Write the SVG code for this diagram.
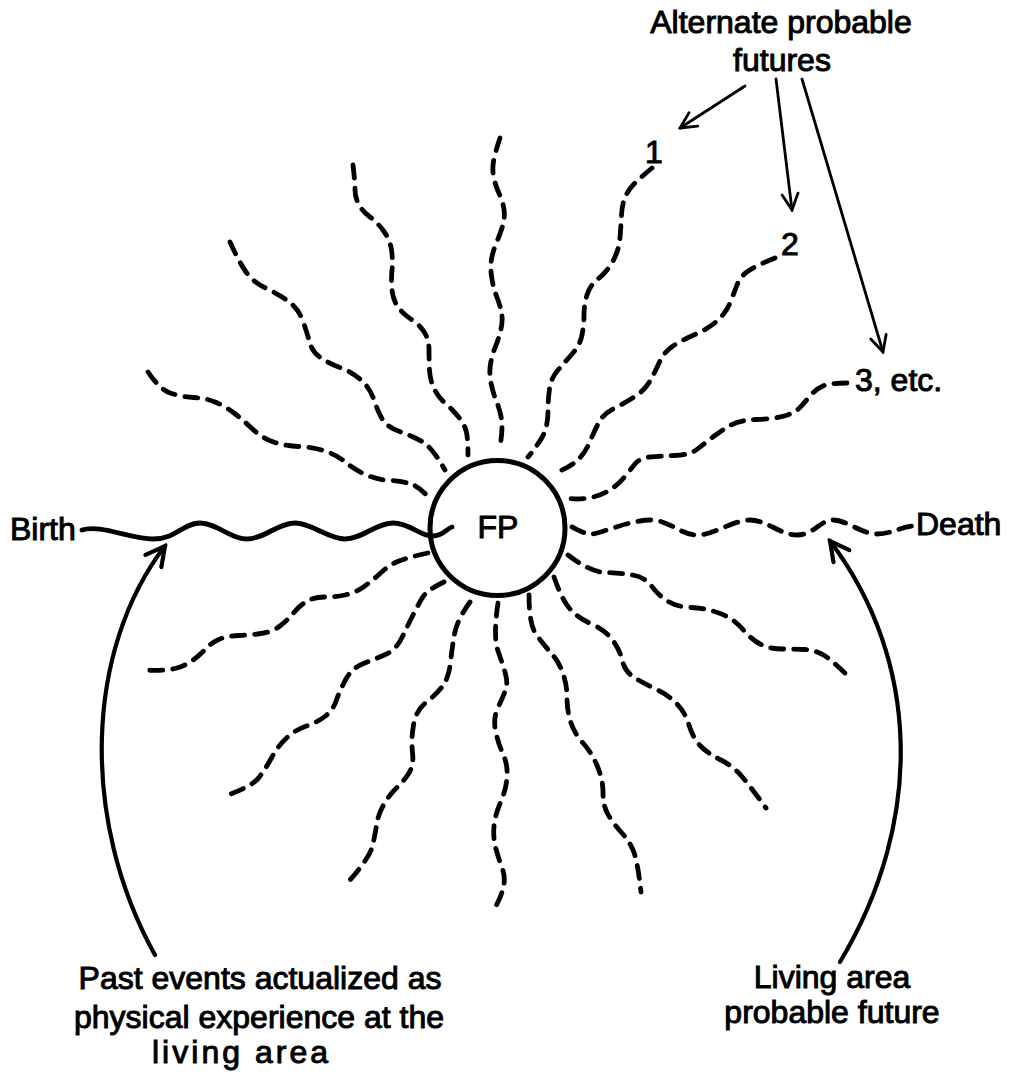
<svg xmlns="http://www.w3.org/2000/svg" width="1010" height="1072" viewBox="0 0 1010 1072">
<style>
.t{font-family:"Liberation Sans",Arial,sans-serif;font-size:32px;fill:#000;stroke:#000;stroke-width:1px}
.m{text-anchor:middle}
.ray{fill:none;stroke:#000;stroke-width:4.8;stroke-linecap:round;stroke-linejoin:round;stroke-dasharray:13 10}
.solid{fill:none;stroke:#000;stroke-linecap:round;stroke-linejoin:round}
</style>
<defs>
<marker id="ah" viewBox="0 0 20 20" refX="18" refY="10" markerWidth="20" markerHeight="20" markerUnits="userSpaceOnUse" orient="auto">
<path d="M2,2 L18,10 L2,18" fill="none" stroke="#000" stroke-width="2.8" stroke-linecap="round" stroke-linejoin="miter"/>
</marker>
<marker id="ahb" viewBox="0 0 24 24" refX="21" refY="12" markerWidth="24" markerHeight="24" markerUnits="userSpaceOnUse" orient="auto">
<path d="M2,2 L21,12 L2,22" fill="none" stroke="#000" stroke-width="4.2" stroke-linecap="round" stroke-linejoin="miter"/>
</marker>
</defs>
<rect width="1010" height="1072" fill="#fff"/>

<g id="connectors">
<!-- upper rays -->
<path class="ray" d="M148,372 Q160,390 171.5,393.5 Q183,397 194,397.5 Q205,398 215,402 Q225,406 234,413 Q243,420 252.5,429 Q262,438 273.5,442 Q285,446 299,446.5 Q313,447 325,451 Q337,455 346,462.5 Q355,470 366.5,475 Q378,480 390,480.5 Q402,481 411,484 Q420,487 429,498"/>
<path class="ray" d="M230,242 Q239,262 246,272 Q253,282 265.5,288 Q278,294 288,301 Q298,308 302.5,320 Q307,332 309.5,342 Q312,352 321,358 Q330,364 341,368 Q352,372 361,380 Q370,388 374,400 Q378,412 382.5,419.5 Q387,427 399.5,431.5 Q412,436 422,441.5 Q432,447 445,470"/>
<path class="ray" d="M353,165 Q355,182 355,189.5 Q355,197 358.5,204 Q362,211 370,217 Q378,223 384,231.5 Q390,240 391.5,250 Q393,260 392,270 Q391,280 392,290 Q393,300 398,307 Q403,314 411.5,319.5 Q420,325 424.5,332.5 Q429,340 429,350 Q429,360 429.5,370 Q430,380 434,388.5 Q438,397 445.5,403.5 Q453,410 459,417.5 Q465,425 466.5,432.5 Q468,440 468,455"/>
<path class="ray" d="M500,138 Q495,153 493.5,161.5 Q492,170 494,178.5 Q496,187 499.5,194.5 Q503,202 504,209.5 Q505,217 503,224.5 Q501,232 497.5,240 Q494,248 492,256.5 Q490,265 491.5,276 Q493,287 496.5,296 Q500,305 501.5,312.5 Q503,320 501,329 Q499,338 495.5,346.5 Q492,355 490.5,364 Q489,373 491,383 Q493,393 496.5,401.5 Q500,410 501.5,419 Q503,428 500,447"/>
<path class="ray" d="M652,168 Q640,178 634,184 Q628,190 625,197.5 Q622,205 621.5,215 Q621,225 620,237.5 Q619,250 613,261 Q607,272 598.5,278.5 Q590,285 587,295 Q584,305 584,315 Q584,325 582,335 Q580,345 572.5,353.5 Q565,362 558,370 Q551,378 549.5,389 Q548,400 548,411 Q548,422 545,431 Q542,440 528,457"/>
<path class="ray" d="M775,258 Q755,266 747.5,271.5 Q740,277 737,285 Q734,293 730,303 Q726,313 717,321 Q708,329 695,334.5 Q682,340 673,346 Q664,352 659.5,362 Q655,372 650,381 Q645,390 635,396.5 Q625,403 614,408.5 Q603,414 598.5,423 Q594,432 589,443.5 Q584,455 576,461.5 Q568,468 555,473"/>
<path class="ray" d="M847,383 Q830,383 823,386 Q816,389 810.5,395.5 Q805,402 800,407.5 Q795,413 784,416 Q773,419 756.5,419.5 Q740,420 731,425 Q722,430 713.5,436.5 Q705,443 697.5,449 Q690,455 675,455.5 Q660,456 650,457 Q640,458 635,464 Q630,470 624,477.5 Q618,485 609,490.5 Q600,496 588.5,498 Q577,500 566,498"/>
<!-- death line -->
<path class="ray" d="M572,527 C580,531 585,534 592,534 S630,520 650,520 S680,535 697,535 S733,520 750,520 S780,535 797,535 S820,520 833,520 S862,534 877,534 S900,527 912,526"/>
<!-- lower rays -->
<path class="ray" d="M428,553 Q405,558 396.5,562 Q388,566 380,573.5 Q372,581 363.5,587 Q355,593 345,595 Q335,597 325,597 Q315,597 307.5,601 Q300,605 294,612.5 Q288,620 280,626 Q272,632 261,633.5 Q250,635 239,635.5 Q228,636 220,639 Q212,642 206,648.5 Q200,655 192.5,660.5 Q185,666 175,668.5 Q165,671 140,670"/>
<path class="ray" d="M444,582 Q427,590 422.5,597.5 Q418,605 413,615 Q408,625 402,637.5 Q396,650 385.5,654.5 Q375,659 363.5,663.5 Q352,668 346,679 Q340,690 336.5,700 Q333,710 325.5,716 Q318,722 306.5,726 Q295,730 286.5,738 Q278,746 272,757 Q266,768 259,777.5 Q252,787 222,797"/>
<path class="ray" d="M470,602 Q457,620 454.5,634 Q452,648 450.5,662.5 Q449,677 443,685.5 Q437,694 426.5,702 Q416,710 413.5,725 Q411,740 412.5,752.5 Q414,765 409,773 Q404,781 396.5,788 Q389,795 383.5,805 Q378,815 376.5,825 Q375,835 372.5,846 Q370,857 350,880"/>
<path class="ray" d="M498,603 Q493,637 498,651 Q503,665 505.5,674 Q508,683 505.5,690 Q503,697 498,707.5 Q493,718 495.5,730.5 Q498,743 503,754 Q508,765 507,777.5 Q506,790 500.5,802.5 Q495,815 494,826 Q493,837 495.5,847 Q498,857 502,867.5 Q506,878 503,889 Q500,900 492,913"/>
<path class="ray" d="M529,595 Q529,625 536.5,635 Q544,645 551.5,653.5 Q559,662 563,673.5 Q567,685 567,697.5 Q567,710 570.5,721.5 Q574,733 583,743 Q592,753 597.5,766.5 Q603,780 603,792.5 Q603,805 607.5,813.5 Q612,822 621.5,832.5 Q631,843 634.5,854 Q638,865 641,892"/>
<path class="ray" d="M554,577 Q562,600 570,609 Q578,618 591.5,624 Q605,630 612.5,640 Q620,650 622.5,661 Q625,672 635,678 Q645,684 656.5,689.5 Q668,695 676.5,703.5 Q685,712 689,725 Q693,738 700,745.5 Q707,753 720,759.5 Q733,766 741.5,776 Q750,786 766,808"/>
<path class="ray" d="M568,555 Q590,572 605,572.5 Q620,573 632.5,575 Q645,577 651.5,586 Q658,595 667.5,601 Q677,607 691,607.5 Q705,608 719,613 Q733,618 742.5,629 Q752,640 761,644.5 Q770,649 782.5,649 Q795,649 805,649.5 Q815,650 823.5,655 Q832,660 850,678"/>
<!-- birth line -->
<path class="solid" stroke-width="4.8" d="M82,530 C100,524 130,539 153,539 S183,523 200,523 S230,539 247,539 S278,523 295,523 S328,539 345,539 S376,523 393,523 S420,536 432,536 S447,528 452,527"/>
<!-- label arrows -->
<path class="solid" stroke-width="2.8" marker-end="url(#ah)" d="M745,86 L680,128"/>
<path class="solid" stroke-width="2.8" marker-end="url(#ah)" d="M776,79 L792,210"/>
<path class="solid" stroke-width="2.8" marker-end="url(#ah)" d="M802,79 L883,352"/>
<path class="solid" stroke-width="4.2" marker-end="url(#ahb)" d="M155,955 C80,820 85,650 165,546"/>
<path class="solid" stroke-width="4.2" marker-end="url(#ahb)" d="M840,962 C925,820 920,660 830,541"/>
</g>

<g id="node-fp">
<circle cx="497.5" cy="528" r="67.5" fill="none" stroke="#000" stroke-width="5"/>
<text class="t m" x="498" y="538">FP</text>
</g>
<g id="label-birth"><text class="t" x="10" y="540">Birth</text></g>
<g id="label-death"><text class="t" x="916" y="535">Death</text></g>
<g id="label-alt"><text class="t m" x="781" y="33">Alternate probable</text><text class="t m" x="782" y="71">futures</text></g>
<g id="label-1"><text class="t m" x="654" y="163">1</text></g>
<g id="label-2"><text class="t m" x="790" y="255">2</text></g>
<g id="label-3"><text class="t" x="855" y="391">3, etc.</text></g>
<g id="label-past"><text class="t m" x="260" y="989">Past events actualized as</text><text class="t m" x="259" y="1028">physical experience at the</text><text class="t" x="152" y="1063" textLength="176" lengthAdjust="spacing">living area</text></g>
<g id="label-living"><text class="t m" x="832" y="988">Living area</text><text class="t m" x="832" y="1023">probable future</text></g>
</svg>
